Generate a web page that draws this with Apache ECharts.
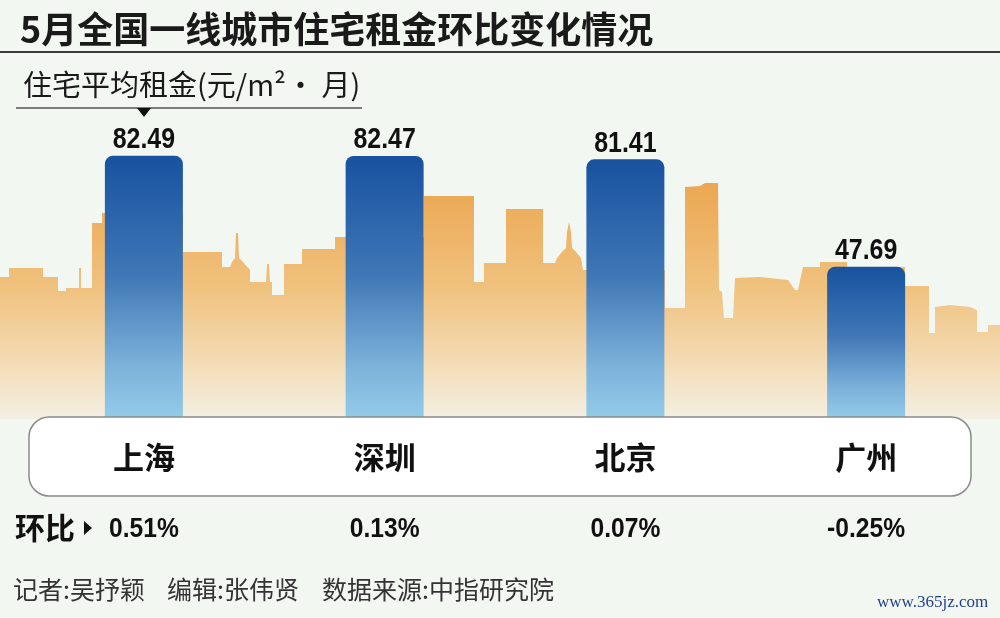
<!DOCTYPE html>
<html>
<head>
<meta charset="utf-8">
<script src="https://cdn.jsdelivr.net/npm/echarts@6/dist/echarts.min.js"></script>
<style>
html,body{margin:0;padding:0;background:#f3f7f1;}
#c{width:1000px;height:618px;}
</style>
</head>
<body>
<div id="c"></div>
<script>
// ---- data ----
var cities = ['上海', '深圳', '北京', '广州'];
var rents = [82.49, 82.47, 81.41, 47.69];
var changes = ['0.51', '0.13', '0.07', '-0.25'];

var titleText = '5月全国一线城市住宅租金环比变化情况';
var subTitleText = '住宅平均租金(元/m²· 月)';
var footerTexts = ['记者:吴抒颖', '编辑:张伟贤', '数据来源:中指研究院'];

// decorative skyline silhouette (background decoration only)
var skyline = [
  [0,419],[0,277],[9,277],[9,268],[43,268],[43,277],[58,277],[58,291],[66,291],[66,288],
  [79,288],[79,268],[81,268],[81,288],[92,288],[92,223],[102,223],[102,213],[183,213],
  [183,252],[222,252],[222,267],[230,267],[232,262],[235,258],[236,233],[238,233],[239,258],
  [243,262],[250,270],[250,282],[266,282],[267,264],[269,264],[270,282],[272,282],[272,295],
  [284,295],[284,264],[302,264],[302,249],[335,249],[335,237],[424,237],[424,196],[474,196],
  [474,282],[484,282],[484,263],[506,263],[506,209],[543,209],[543,263],[555,263],[557,258],
  [562,252],[566,248],[567,232],[569,222],[571,232],[572,248],[576,252],[581,258],[583,270],
  [665,270],[665,308],[685,308],[685,187],[700,186],[705,183],[718,183],[719,290],[722,292],
  [724,318],[733,318],[735,278],[760,277],[788,280],[795,290],[798,290],[803,267],[820,267],
  [820,262],[847,262],[847,267],[905,267],[905,286],[929,286],[929,333],[935,333],[935,307],
  [950,305],[970,307],[977,310],[977,332],[988,332],[988,325],[1000,325],[1000,419]
];

var chart = echarts.init(document.getElementById('c'));
var cjk = "'Noto Sans CJK SC', sans-serif";
var arial = "'Liberation Sans', Arial, sans-serif";

var valueData = rents.map(function (v, i) { return [i, v]; });
var changeData = changes.map(function (c, i) { return [i, 0, c]; });

var option = {
  backgroundColor: '#f3f7f1',
  animation: false,
  title: [
    { text: titleText, left: 15, top: 6,
      textStyle: { fontFamily: cjk, fontSize: 36, fontWeight: 'bold', color: '#1a1a1a' } },
    { text: subTitleText, left: 18, top: 65,
      textStyle: { fontFamily: cjk, fontSize: 29, fontWeight: 'normal', color: '#1a1a1a' } }
  ],
  grid: { left: 23.5, right: 13.5, top: 100, bottom: 199, containLabel: false },
  xAxis: { type: 'category', data: cities, z: 60,
    axisLine: { show: false }, axisTick: { show: false }, splitLine: { show: false },
    axisLabel: { margin: 23, fontFamily: cjk, fontSize: 31, fontWeight: 'bold', color: '#111' } },
  yAxis: { type: 'value', min: 0, max: 100, show: false },
  series: [{
    type: 'bar',
    data: rents,
    barWidth: 78,
    z: 5,
    itemStyle: {
      borderRadius: [8, 8, 0, 0],
      color: new echarts.graphic.LinearGradient(0, 0, 0, 1, [
        { offset: 0, color: '#1852a0' },
        { offset: 0.45, color: '#3f77b6' },
        { offset: 0.8, color: '#7db2da' },
        { offset: 1, color: '#94cbe9' }
      ])
    }
  }, {
    type: 'custom',
    z: 60,
    silent: true,
    data: valueData,
    renderItem: function (params, api) {
      var p = api.coord([api.value(0), api.value(1)]);
      return {
        type: 'text', x: p[0], y: p[1] - 1, scaleX: 0.86,
        style: { text: api.value(1).toFixed(2), fontFamily: arial, fontSize: 29, fontWeight: 'bold',
          fill: '#111', align: 'center', verticalAlign: 'bottom' }
      };
    }
  }, {
    type: 'custom',
    z: 60,
    silent: true,
    data: changeData,
    encode: { x: 0, y: 1 },
    renderItem: function (params, api) {
      var p = api.coord([api.value(0), api.value(1)]);
      return {
        type: 'text', x: p[0], y: p[1] + 110, scaleX: 0.88,
        style: { text: changes[params.dataIndex] + '%', fontFamily: arial, fontSize: 28, fontWeight: 'bold',
          fill: '#111', align: 'center', verticalAlign: 'middle' }
      };
    }
  }],
  graphic: [
    { type: 'polygon', z: 1, silent: true,
      shape: { points: skyline },
      style: { fill: new echarts.graphic.LinearGradient(0, 0, 0, 1, [
        { offset: 0, color: '#eca752' },
        { offset: 0.45, color: '#f0c27f' },
        { offset: 0.8, color: '#f4dfbd' },
        { offset: 1, color: '#f3efe2' }
      ]) } },
    { type: 'line', z: 3, silent: true,
      shape: { x1: 0, y1: 52, x2: 1000, y2: 52 },
      style: { stroke: '#3a3a3a', lineWidth: 2 } },
    { type: 'line', z: 3, silent: true,
      shape: { x1: 16, y1: 108, x2: 362, y2: 108 },
      style: { stroke: '#555', lineWidth: 1.5 } },
    { type: 'polygon', z: 3, silent: true,
      shape: { points: [[137, 108], [151, 108], [144, 117]] },
      style: { fill: '#111' } },
    { type: 'rect', z: 10, silent: true,
      shape: { x: 29, y: 417, width: 942, height: 79, r: 20 },
      style: { fill: '#ffffff', stroke: '#8a8a8a', lineWidth: 1.5 } },
    { type: 'text', z: 50, left: 15, top: 513,
      style: { text: '环比', fontFamily: cjk, fontSize: 30, fontWeight: 'bold', fill: '#111' } },
    { type: 'polygon', z: 50, silent: true,
      shape: { points: [[84, 521], [92, 528], [84, 535]] },
      style: { fill: '#111' } },
    { type: 'text', z: 50, left: 13, top: 577,
      style: { text: footerTexts[0], fontFamily: cjk, fontSize: 25, fill: '#333' } },
    { type: 'text', z: 50, left: 167, top: 577,
      style: { text: footerTexts[1], fontFamily: cjk, fontSize: 25, fill: '#333' } },
    { type: 'text', z: 50, left: 322, top: 577,
      style: { text: footerTexts[2], fontFamily: cjk, fontSize: 25, fill: '#333' } },
    { type: 'text', z: 50, left: 877, top: 594,
      style: { text: 'www.365jz.com', fontFamily: "'Liberation Serif', serif", fontSize: 17, fill: '#1f3f8f' } }
  ]
};
chart.setOption(option);
</script>
</body>
</html>
